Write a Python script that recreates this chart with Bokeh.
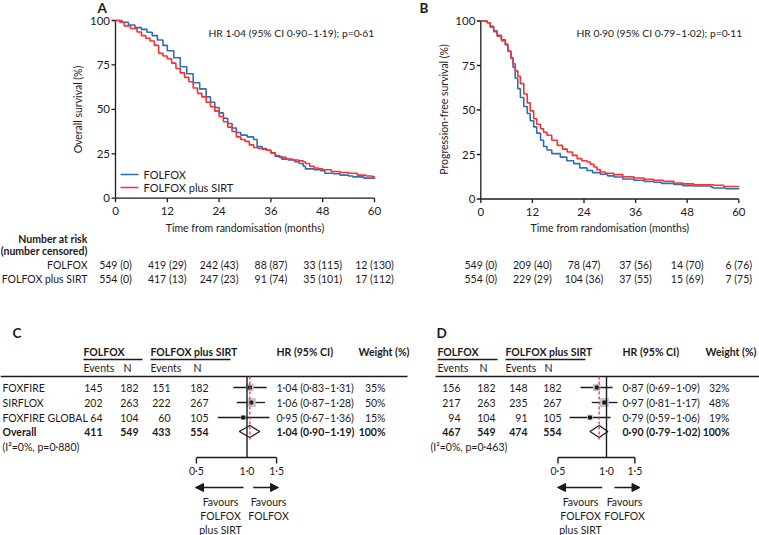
import math
from bokeh.plotting import figure
from bokeh.models import Range1d, LinearScale, LogScale, Arrow, NormalHead
from bokeh.core.properties import value
from bokeh.embed import file_html
from bokeh.resources import INLINE

# ---------------- data ----------------
month_ticks = [0, 12, 24, 36, 48, 60]
pct_ticks = [0, 25, 50, 75, 100]
arms = ["FOLFOX", "FOLFOX plus SIRT"]

# Overall survival (panel A)
os_folfox_t = [0, 1.5, 3, 4.5, 6, 7.3, 8.5, 9.7, 11, 12, 13.5, 15, 16.5, 18, 19.5, 21, 22, 23, 24,
               25, 26, 27, 28, 29, 30.5, 32, 32.8, 34, 35, 36, 37, 38.5, 40, 41.5, 42.5, 43.5, 44,
               46, 47.5, 48.5, 50.5, 52, 54, 55, 57.5, 60]
os_folfox_s = [100, 99, 97.5, 96, 95, 93.4, 91.5, 89, 86, 83, 79, 74, 70, 65, 61.5, 57, 54, 51, 48,
               45, 42, 39.5, 37, 35.5, 34.5, 33, 29, 28, 27, 25.5, 23.5, 22, 21.5, 20.5, 19.5, 18, 16.5,
               16, 15.5, 14, 13.8, 13, 12.5, 12, 11.3, 11]
os_sirt_t = [0, 1, 2, 3.5, 5, 6, 7, 8, 9, 10, 11, 12, 13, 14, 15, 16, 17, 18, 19, 20, 21, 22, 23,
             24, 25, 26, 27, 28, 29, 30, 31, 32, 33, 34, 35, 36, 37, 38, 39.5, 41, 42.5, 43.5, 44,
             45, 46, 47, 48, 50, 52, 54, 56, 58, 59.5, 60]
os_sirt_s = [100, 99, 97, 95.5, 93.5, 91.5, 90, 88.5, 86, 81.5, 80, 78.5, 76, 73, 70.5, 68, 65.5,
             62, 59, 57, 54, 51.5, 49, 46, 43, 40, 37.5, 34.5, 33, 32, 30, 28.5, 28, 27.5, 27, 25.5,
             24, 23, 22, 21.5, 21, 20.5, 19.5, 18, 17, 16.5, 16, 15, 14.5, 14, 13, 12.5, 12, 11.5]

# Progression-free survival (panel B)
pfs_folfox_t = [0, 1.5, 2.2, 3, 3.8, 4.8, 5.7, 6.3, 7, 7.5, 8, 8.6, 9.2, 10, 10.8, 11.5, 12.3, 13,
                13.9, 14.6, 15.4, 16.5, 18.5, 20, 21.6, 23, 24.7, 26, 27.8, 29.5, 31, 33, 35.6, 38,
                40.2, 42, 44.9, 47, 49.5, 53.5, 54, 57, 60]
pfs_folfox_s = [100, 99, 97, 94.5, 92, 89.5, 87, 83, 79, 74, 68, 62, 57, 52, 48, 44, 40.5, 37, 33,
                29.5, 27.5, 25.5, 23.5, 21.5, 19.9, 17.5, 16, 14.8, 13.9, 13, 12.4, 11.2, 10.5, 9.8,
                9.4, 8.8, 8.2, 7.5, 7.3, 6.7, 6.2, 5.8, 5.6]
pfs_sirt_t = [0, 1.5, 2.2, 3, 3.8, 4.8, 5.7, 6.3, 7, 7.5, 8, 8.6, 9.2, 10, 10.8, 11.5, 12.3, 13,
              13.9, 14.6, 15.4, 16.5, 17.8, 19, 20.1, 21.3, 22.4, 23.5, 24.7, 25.5, 26.3, 27, 27.8,
              29, 30.9, 33, 35.6, 38, 40.2, 42.5, 44.9, 47, 49.5, 54.2, 56.5, 60]
pfs_sirt_s = [100, 99, 96.5, 94, 91.5, 89, 86.5, 83, 79.5, 76, 72, 69, 64.8, 59, 54, 49.5, 45.1, 42,
              39.5, 37.5, 35.8, 33, 30.1, 28, 26.4, 24.5, 22.7, 21.5, 20.8, 19.5, 18, 16.5, 15.2,
              14.5, 13.7, 12.5, 11.8, 11, 10.5, 10, 9, 8.5, 8, 7.7, 7, 6.7]

os_hr_text = "HR 1·04 (95% CI 0·90–1·19); p=0·61"
pfs_hr_text = "HR 0·90 (95% CI 0·79–1·02); p=0·11"

os_risk_folfox = [549, 419, 242, 88, 33, 12]
os_cens_folfox = [0, 29, 43, 87, 115, 130]
os_risk_sirt = [554, 417, 247, 91, 35, 17]
os_cens_sirt = [0, 13, 23, 74, 101, 112]
pfs_risk_folfox = [549, 209, 78, 37, 14, 6]
pfs_cens_folfox = [0, 40, 47, 56, 70, 76]
pfs_risk_sirt = [554, 229, 104, 37, 15, 7]
pfs_cens_sirt = [0, 29, 36, 55, 69, 75]

studies = ["FOXFIRE", "SIRFLOX", "FOXFIRE GLOBAL", "Overall"]
os_ev_folfox = [145, 202, 64, 411]
os_n_folfox = [182, 263, 104, 549]
os_ev_sirt = [151, 222, 60, 433]
os_n_sirt = [182, 267, 105, 554]
os_hr = [1.04, 1.06, 0.95, 1.04]
os_lo = [0.83, 0.87, 0.67, 0.90]
os_hi = [1.31, 1.28, 1.36, 1.19]
os_weight = [35, 50, 15, 100]
os_het = "(I²=0%, p=0·880)"

pfs_ev_folfox = [156, 217, 94, 467]
pfs_n_folfox = [182, 263, 104, 549]
pfs_ev_sirt = [148, 235, 91, 474]
pfs_n_sirt = [182, 267, 105, 554]
pfs_hr = [0.87, 0.97, 0.79, 0.90]
pfs_lo = [0.69, 0.81, 0.59, 0.79]
pfs_hi = [1.09, 1.17, 1.06, 1.02]
pfs_weight = [32, 48, 19, 100]
pfs_het = "(I²=0%, p=0·463)"

hr_ticks = [0.5, 1.0, 1.5]

# ---------------- style / layout ----------------
FONT = "Lato"
INK = "#1d1a1b"
BLUE = "#2f6db5"
RED = "#ff2f2f"
SQUARE = "#bcc7d3"
W, H = 759, 535

p = figure(width=W, height=H, x_range=Range1d(0, W), y_range=Range1d(H, 0),
           x_axis_type=None, y_axis_type=None, toolbar_location=None,
           output_backend="svg", min_border=0, outline_line_color=None,
           background_fill_color="white", border_fill_color="white")
p.grid.visible = False


def lin_x(v0, p0, v1, p1):
    s = (v1 - v0) / (p1 - p0)
    return Range1d(v0 - p0 * s, v0 + (W - p0) * s)


def lin_y(v0, p0, v1, p1):
    s = (v1 - v0) / (p1 - p0)
    return Range1d(v0 + (H - p0) * s, v0 - p0 * s)


def log_x(x0, k):
    return Range1d(math.exp(-x0 / k), math.exp((W - x0) / k))


p.extra_x_ranges = {"A": lin_x(0, 115, 60, 374), "B": lin_x(0, 480.3, 60, 738.3),
                    "C": log_x(246.5, 73), "D": log_x(606, 70)}
p.extra_x_scales = {"A": LinearScale(), "B": LinearScale(), "C": LogScale(), "D": LogScale()}
p.extra_y_ranges = {"A": lin_y(100, 20, 0, 197.7), "B": lin_y(100, 20.5, 0, 198.5)}
p.extra_y_scales = {"A": LinearScale(), "B": LinearScale()}


def txt(x, y, t, align="left", size=10.5, bold=False, xr="default", yr="default", angle=0):
    p.text(x=x, y=y, text=t, text_align=align, text_baseline="middle",
           text_font=value(FONT), text_font_size=f"{size}px",
           text_font_style="bold" if bold else "normal", text_color=INK, angle=angle,
           x_range_name=xr, y_range_name=yr)


def fmt(v, nd=2):
    return f"{v:.{nd}f}".replace(".", "·")


def km_panel(name, letter, letter_x, axis_x, axis_y, t1, s1, t2, s2, r1, c1, r2, c2,
             hr_text, hr_x, ytitle, ytitle_x):
    n = len(month_ticks)
    m = len(pct_ticks)
    # axes
    p.line([month_ticks[0], month_ticks[-1]], [pct_ticks[0]] * 2, color=INK, line_width=1.3,
           x_range_name=name, y_range_name=name)
    p.line([month_ticks[0]] * 2, [pct_ticks[0], pct_ticks[-1]], color=INK, line_width=1.3,
           x_range_name=name, y_range_name=name)
    p.segment(x0=month_ticks, x1=month_ticks, y0=[axis_y] * n, y1=[axis_y + 4] * n,
              color=INK, line_width=1.3, x_range_name=name)
    p.segment(x0=[axis_x - 4] * m, x1=[axis_x] * m, y0=pct_ticks, y1=pct_ticks,
              color=INK, line_width=1.3, y_range_name=name)
    txt(month_ticks, [axis_y + 12.5] * n, [str(v) for v in month_ticks], align="center",
        size=11.5, xr=name)
    txt([axis_x - 5.5] * m, pct_ticks, [str(v) for v in pct_ticks], align="right", size=11.5,
        yr=name)
    # curves
    p.step(t1, s1, mode="after", color=BLUE, line_width=1.6, x_range_name=name, y_range_name=name)
    p.step(t2, s2, mode="after", color=RED, line_width=1.6, x_range_name=name, y_range_name=name)
    # titles
    txt([(month_ticks[0] + month_ticks[-1]) / 2], [227], ["Time from randomisation (months)"],
        align="center", xr=name)
    txt([ytitle_x], [109], [ytitle], align="center", angle=math.pi / 2)
    txt([letter_x], [7], [letter], size=13.5, bold=True)
    txt([hr_x], [32], [hr_text], size=10.3)
    # number at risk
    txt(month_ticks, [264] * n, [f"{a} ({b})" for a, b in zip(r1, c1)], align="center", xr=name)
    txt(month_ticks, [278] * n, [f"{a} ({b})" for a, b in zip(r2, c2)], align="center", xr=name)


km_panel("A", "A", 97, 115, 197.7, os_folfox_t, os_folfox_s, os_sirt_t, os_sirt_s,
         os_risk_folfox, os_cens_folfox, os_risk_sirt, os_cens_sirt, os_hr_text, 208,
         "Overall survival (%)", 77)
km_panel("B", "B", 419, 480.3, 198.5, pfs_folfox_t, pfs_folfox_s, pfs_sirt_t, pfs_sirt_s,
         pfs_risk_folfox, pfs_cens_folfox, pfs_risk_sirt, pfs_cens_sirt, pfs_hr_text, 576,
         "Progression-free survival (%)", 443)

# legend (panel A)
p.segment(x0=[120, 120], x1=[138, 138], y0=[174, 187], y1=[174, 187], color=[BLUE, RED],
          line_width=1.6)
txt([143, 143], [174, 187], arms, size=11)

# risk table row labels
txt([87, 87], [238, 250], ["Number at risk", "(number censored)"], align="right", bold=True)
txt([87, 87], [264, 278], arms, align="right")

ROWS = [387, 402, 417, 431]


def forest(name, letter, letter_x, line_x0, line_x1, col, labels, ev1, n1, ev2, n2,
           hr, lo, hi, wt, het):
    # header
    txt([letter_x], [332], [letter], size=13.5, bold=True)
    txt([col["f"], col["s"], col["hr"], col["w"]], [351] * 4,
        [arms[0], arms[1], "HR (95% CI)", "Weight (%)"], bold=True)
    txt([col["f"], col["fn"], col["s"], col["sn"]], [367] * 4, ["Events", "N", "Events", "N"])
    p.segment(x0=[col["f"], col["s"]], x1=[col["f_end"], col["s_end"]], y0=[359, 359],
              y1=[359, 359], color=INK, line_width=1.4)
    p.segment(x0=[line_x0], x1=[line_x1], y0=[376], y1=[376], color=INK, line_width=1.4)
    k = len(labels)
    if labels:
        txt([2] * (k - 1), ROWS[:k - 1], labels[:k - 1])
        txt([2], ROWS[k - 1:], labels[k - 1:], bold=True)
    nrm = len(hr) - 1
    cols = [("ev1", ev1), ("n1", n1), ("ev2", ev2), ("n2", n2)]
    for key, arr in cols:
        txt([col[key]] * nrm, ROWS[:nrm], [str(v) for v in arr[:nrm]], align="right")
        txt([col[key]], ROWS[nrm:], [str(arr[nrm])], align="right", bold=True)
    hr_txt = [f"{fmt(h)} ({fmt(a)}–{fmt(b)})" for h, a, b in zip(hr, lo, hi)]
    txt([col["hr"]] * nrm, ROWS[:nrm], hr_txt[:nrm])
    txt([col["hr"]], ROWS[nrm:], hr_txt[nrm:], bold=True)
    txt([col["wr"]] * nrm, ROWS[:nrm], [f"{w}%" for w in wt[:nrm]], align="right")
    txt([col["wr"]], ROWS[nrm:], [f"{wt[nrm]}%"], align="right", bold=True)
    txt([col["het"]], [446], [het])
    # forest marks
    p.segment(x0=lo[:nrm], x1=hi[:nrm], y0=ROWS[:nrm], y1=ROWS[:nrm], color=INK, line_width=1.3,
              x_range_name=name)
    p.scatter(x=hr[:nrm], y=ROWS[:nrm], marker="square", size=[1.3 * math.sqrt(w) for w in wt[:nrm]],
              fill_color=SQUARE, line_color=None, x_range_name=name)
    p.scatter(x=hr[:nrm], y=ROWS[:nrm], marker="square", size=3, color=INK, x_range_name=name)
    yo = ROWS[nrm]
    p.patch(x=[lo[nrm], hr[nrm], hi[nrm], hr[nrm]], y=[yo, yo - 6, yo, yo + 6], fill_alpha=0,
            line_color=INK, line_width=1.3, x_range_name=name)
    p.segment(x0=[hr_ticks[1]], x1=[hr_ticks[1]], y0=[376], y1=[457], color=INK, line_width=1.4,
              x_range_name=name)
    p.segment(x0=[hr[nrm]], x1=[hr[nrm]], y0=[376], y1=[440], color=RED, line_width=1.3,
              line_dash="3 2", x_range_name=name)
    # axis
    p.line(x=[hr_ticks[0], hr_ticks[-1]], y=[457, 457], color=INK, line_width=1.4,
           x_range_name=name)
    outer = [hr_ticks[0], hr_ticks[-1]]
    p.segment(x0=outer, x1=outer, y0=[457, 457], y1=[463, 463], color=INK, line_width=1.4,
              x_range_name=name)
    txt(hr_ticks, [470] * 3, [fmt(v, 1) for v in hr_ticks], align="center", xr=name)
    # arrows and favour labels
    for xs, xe in [(col["al"], col["al_end"]), (col["ar"], col["ar_end"])]:
        p.add_layout(Arrow(end=NormalHead(size=8, fill_color=INK, line_color=INK),
                           x_start=xs, y_start=487, x_end=xe, y_end=487,
                           line_color=INK, line_width=1.5))
    txt([col["fl"]] * 3, [501, 515, 529], ["Favours", "FOLFOX", "plus SIRT"], align="center")
    txt([col["fr"]] * 2, [501, 515], ["Favours", "FOLFOX"], align="center")


colC = dict(f=83, f_end=142, s=150, s_end=230, hr=276, w=358, fn=123, sn=193,
            ev1=102, n1=138, ev2=170, n2=208, wr=385, al=243, al_end=195, ar=252.7, ar_end=278,
            fl=220, fr=268, het=2)
colD = dict(f=437, f_end=497, s=505, s_end=585, hr=622, w=705, fn=479, sn=544,
            ev1=460, n1=495, ev2=527, n2=561, wr=729, al=601.7, al_end=557, ar=614, ar_end=639.5,
            fl=580, fr=624, het=430)

forest("C", "C", 12, 0, 407, colC, studies, os_ev_folfox, os_n_folfox, os_ev_sirt, os_n_sirt,
       os_hr, os_lo, os_hi, os_weight, os_het)
forest("D", "D", 436, 435, 759, colD, [], pfs_ev_folfox, pfs_n_folfox, pfs_ev_sirt, pfs_n_sirt,
       pfs_hr, pfs_lo, pfs_hi, pfs_weight, pfs_het)

open("out.html", "w").write(file_html(p, INLINE))
